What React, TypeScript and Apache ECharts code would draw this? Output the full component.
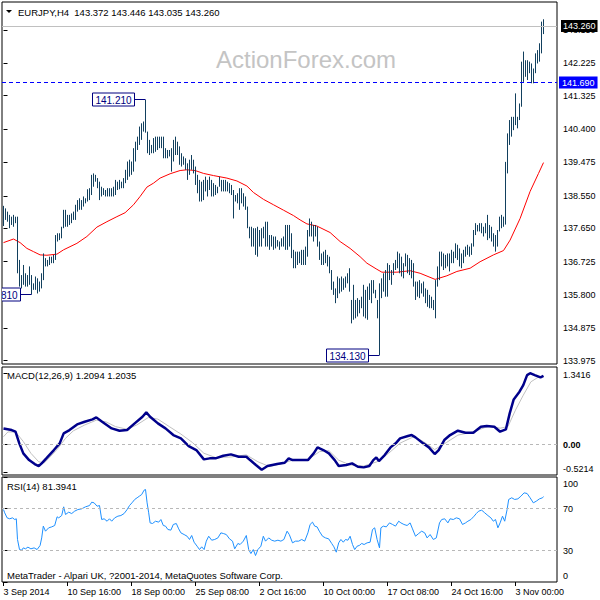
import React, { useEffect, useRef } from "react";
import * as echarts from "echarts";

const FONT = "'Liberation Sans', Arial, sans-serif";

const priceTicks = [133.975, 134.875, 135.8, 136.725, 137.65, 138.55, 139.475, 140.4, 141.325, 142.225, 143.15];
const macdTicks = [-0.5214, 0, 1.3416];
const rsiTicks = [0, 30, 70, 100];
const timeLabels = ["3 Sep 2014", "10 Sep 16:00", "18 Sep 00:00", "25 Sep 08:00", "2 Oct 16:00", "10 Oct 00:00", "17 Oct 08:00", "24 Oct 16:00", "3 Nov 00:00"];
const timeLabelBars = [0, 32, 64, 96, 128, 160, 192, 224, 256];

const highs = [
  138.27, 138.2, 138.11, 138.02, 137.97, 138.02, 137.97, 137.97, 136.77, 136.35,
  136.63, 136.4, 136.35, 136.59, 136.35, 136.12, 136.31, 136.26, 136.17, 136.4,
  136.95, 136.82, 136.77, 136.86, 136.86, 136.91, 137.46, 137.51, 137.51, 137.69,
  138.16, 138.16, 138.02, 138.02, 138.06, 138.11, 138.3, 138.43, 138.48, 138.43,
  138.53, 138.48, 138.73, 138.76, 139.13, 139.17, 139.13, 139.04, 138.94, 138.8,
  138.76, 138.71, 138.76, 138.76, 138.76, 138.8, 138.99, 138.94, 138.99, 138.94,
  139.04, 139.27, 139.5, 139.55, 139.5, 139.87, 140.05, 140.19, 140.47, 140.56,
  140.61, 141.21, 140.33, 140.1, 139.96, 140.15, 140.19, 140.19, 140.19, 140.19,
  140.19, 139.87, 139.82, 139.82, 139.87, 140.1, 140.19, 140.05, 139.92, 139.73,
  139.64, 139.59, 139.45, 139.55, 139.68, 139.55, 139.36, 139.13, 138.99, 138.94,
  138.99, 139.08, 138.99, 139.08, 138.99, 138.9, 138.85, 138.8, 139.08, 138.99,
  138.99, 138.99, 138.94, 138.9, 138.85, 138.71, 138.57, 138.62, 138.76, 138.76,
  138.62, 138.53, 138.25, 137.69, 137.69, 137.65, 137.65, 137.69, 137.6, 137.65,
  137.69, 137.83, 137.83, 137.46, 137.46, 137.42, 137.42, 137.32, 137.28, 137.37,
  137.42, 137.74, 137.74, 137.74, 137.51, 137.05, 137.0, 137.0, 137.0, 137.05,
  137.05, 137.14, 137.6, 137.92, 137.83, 137.74, 137.74, 137.69, 137.28, 136.95,
  137.0, 137.05, 136.91, 136.86, 136.49, 136.17, 135.98, 136.31, 136.26, 136.31,
  136.26, 136.31, 136.4, 136.54, 135.66, 136.08, 135.66, 135.71, 135.66, 135.75,
  136.08, 135.94, 136.03, 136.12, 136.21, 136.21, 135.94, 135.66, 136.12, 136.26,
  136.4, 136.49, 136.68, 136.63, 136.49, 136.68, 136.77, 137.0, 136.95, 136.86,
  136.68, 136.95, 136.91, 136.82, 136.77, 136.68, 136.17, 136.17, 136.21, 136.12,
  136.17, 135.98, 135.94, 135.8, 135.75, 135.66, 136.21, 136.59, 137.0, 137.0,
  136.95, 136.91, 136.95, 136.95, 137.05, 137.0, 137.23, 137.19, 137.09, 136.95,
  137.05, 137.14, 137.19, 137.14, 137.23, 137.6, 137.79, 137.74, 137.79, 137.79,
  137.69, 137.79, 138.02, 137.74, 137.69, 137.51, 137.46, 137.6, 137.97, 138.02,
  137.97, 139.49, 140.28, 140.65, 140.74, 140.74, 141.39, 140.74, 141.11, 142.27,
  142.55, 142.31, 142.31, 142.27, 142.22, 142.08, 142.5, 142.59, 142.78, 143.38,
  143.446
];

const lows = [
  137.71, 137.88, 137.83, 137.65, 137.74, 137.69, 137.79, 136.4, 136.03, 135.98,
  136.08, 136.03, 136.03, 136.08, 135.81, 135.94, 135.94, 135.84, 135.89, 135.98,
  136.21, 136.59, 136.59, 136.63, 136.68, 136.68, 136.77, 137.28, 137.32, 137.37,
  137.65, 137.69, 137.69, 137.74, 137.79, 137.88, 137.88, 138.11, 138.16, 138.16,
  138.25, 138.34, 138.39, 138.43, 138.57, 138.8, 138.94, 138.76, 138.43, 138.53,
  138.57, 138.53, 138.53, 138.53, 138.53, 138.53, 138.57, 138.71, 138.73, 138.76,
  138.76, 138.9, 138.99, 139.08, 139.13, 139.22, 139.5, 139.82, 139.96, 140.1,
  140.33, 140.3, 139.73, 139.68, 139.73, 139.73, 139.77, 139.82, 139.87, 139.87,
  139.59, 139.59, 139.59, 139.64, 139.22, 139.5, 139.68, 139.68, 139.41, 139.36,
  139.41, 139.27, 138.99, 139.13, 139.27, 139.17, 138.85, 138.62, 138.39, 138.39,
  138.43, 138.67, 138.53, 138.71, 138.53, 138.53, 138.57, 138.62, 138.8, 138.67,
  138.67, 138.67, 138.67, 138.62, 138.57, 137.92, 138.39, 138.34, 138.16, 138.34,
  138.25, 138.16, 137.65, 137.37, 137.14, 137.14, 136.91, 136.86, 137.14, 137.14,
  137.37, 137.14, 137.14, 137.05, 137.14, 137.05, 137.09, 137.14, 137.05, 137.14,
  137.14, 137.05, 137.05, 137.14, 136.82, 136.54, 136.54, 136.63, 136.68, 136.63,
  136.63, 136.63, 136.86, 137.42, 137.42, 137.28, 137.42, 137.14, 136.77, 136.63,
  136.63, 136.68, 136.59, 136.4, 135.94, 135.8, 135.57, 135.71, 135.84, 135.89,
  135.94, 136.0, 136.12, 135.89, 135.01, 135.11, 135.15, 135.2, 135.29, 135.43,
  135.2, 135.15, 135.11, 135.66, 135.57, 135.84, 135.71, 135.15, 134.13, 135.71,
  135.89, 135.75, 135.75, 136.21, 136.08, 136.35, 136.49, 136.54, 136.4, 136.31,
  136.26, 136.59, 136.4, 136.35, 136.26, 136.03, 135.66, 135.75, 135.71, 135.84,
  135.75, 135.57, 135.47, 135.43, 135.43, 135.38, 135.15, 136.03, 136.21, 136.59,
  136.49, 136.54, 136.59, 136.45, 136.68, 136.68, 136.82, 136.77, 136.59, 136.54,
  136.68, 136.86, 136.91, 136.86, 136.91, 137.14, 137.46, 137.56, 137.56, 137.51,
  137.42, 137.51, 137.32, 137.37, 137.28, 137.14, 137.0, 137.14, 137.56, 137.65,
  137.69, 137.75, 139.17, 139.96, 140.19, 140.37, 140.51, 140.42, 140.65, 141.02,
  141.71, 141.85, 141.76, 141.95, 141.67, 141.67, 141.95, 142.22, 142.27, 142.5,
  143.035
];

const maPoints = [
  [0, 137.25], [5, 137.35], [8.3, 137.25], [11.7, 137.09], [15, 137.0], [18.3, 136.91], [21.7, 136.9],
  [26.7, 136.93], [30, 137.05], [36.7, 137.23], [41.7, 137.42], [46.7, 137.68], [51.7, 137.83],
  [56.7, 137.97], [60.8, 138.08], [65, 138.3], [68.3, 138.53], [71.7, 138.79], [75, 138.9],
  [78.3, 139.04], [83.3, 139.16], [88.3, 139.25], [91.7, 139.27], [95.8, 139.25], [100, 139.17],
  [105, 139.11], [111.7, 139.04], [116.7, 138.96], [121.7, 138.82], [125, 138.64], [130, 138.45],
  [135, 138.3], [140, 138.15], [145, 138.0], [148.3, 137.88], [151.7, 137.77], [156.7, 137.71],
  [163.3, 137.53], [168.3, 137.28], [173.3, 137.09], [178.3, 136.86], [181.7, 136.68],
  [186.7, 136.51], [189.2, 136.43], [196.7, 136.43], [203.3, 136.47], [208.3, 136.4],
  [215.8, 136.23], [221.7, 136.33], [226.7, 136.45], [233.3, 136.54], [238.3, 136.72],
  [245, 136.91], [250, 137.03], [253.3, 137.32], [258.3, 137.92], [263.3, 138.67],
  [267.5, 139.17], [270, 139.47]
];

const macdMain = [
  [0, 0.306], [4.1, 0.275], [6, 0.244], [7.9, 0.025], [9.9, -0.163], [12.8, -0.288], [15.6, -0.363],
  [17.6, -0.4], [19.1, -0.35], [21.4, -0.256], [25.2, -0.1], [28.1, 0.025], [30.1, 0.213], [33, 0.275],
  [36.8, 0.381], [40.6, 0.431], [44.5, 0.475], [46.4, 0.513], [49.3, 0.431], [54.1, 0.306], [58, 0.263],
  [61.8, 0.275], [65.6, 0.4], [69.5, 0.525], [71.4, 0.606], [73.3, 0.525], [77.2, 0.4], [81, 0.306],
  [84.9, 0.181], [88.7, 0.119], [92.6, -0.025], [96.4, -0.1], [100.2, -0.275], [103.1, -0.256],
  [106, -0.256], [109.9, -0.206], [113.7, -0.181], [117.6, -0.225], [121.4, -0.225], [123.3, -0.288],
  [126.2, -0.381], [129.1, -0.47], [132, -0.4], [136.8, -0.363], [140.6, -0.338], [142.6, -0.256],
  [144.5, -0.288], [148.3, -0.288], [152.2, -0.288], [155.1, -0.163], [157, -0.05], [159.9, -0.1],
  [162.7, -0.163], [165.6, -0.288], [167.6, -0.4], [171.4, -0.381], [174.3, -0.35], [177.2, -0.413],
  [180.1, -0.425], [182.9, -0.4], [184.9, -0.288], [186.4, -0.238], [187.7, -0.306], [190.6, -0.194],
  [193.5, -0.05], [196.4, 0.038], [198.3, 0.119], [202.2, 0.163], [204.1, 0.181], [206, 0.138],
  [209.9, 0.025], [212.7, -0.05], [215.6, -0.175], [217.6, -0.1], [220.4, 0.088], [223.3, 0.181],
  [227.2, 0.263], [231, 0.225], [234.9, 0.225], [238.7, 0.338], [241.6, 0.35], [245.4, 0.338],
  [248.3, 0.244], [251.2, 0.288], [253.1, 0.588], [255.1, 0.85], [258, 0.994], [259.9, 1.119],
  [261.8, 1.306], [263.3, 1.3416], [265.6, 1.306], [268.5, 1.263], [270, 1.29]
];

const macdSignal = [
  [0, 0.15], [2.2, 0.24], [6, 0.24], [9.9, 0.06], [13.7, -0.16], [17.6, -0.32], [20.4, -0.34],
  [23.3, -0.23], [27.2, -0.07], [31, 0.12], [34.9, 0.26], [40.6, 0.37], [46.4, 0.46], [51.2, 0.43],
  [56, 0.34], [61.8, 0.29], [66.6, 0.37], [72.4, 0.51], [77.2, 0.48], [82.9, 0.34], [88.7, 0.2],
  [94.5, 0.04], [100.2, -0.16], [106, -0.24], [113.7, -0.23], [121.4, -0.19], [127.2, -0.32],
  [133, -0.41], [138.7, -0.36], [144.5, -0.29], [152.2, -0.28], [158, -0.13], [162.7, -0.11],
  [167.6, -0.29], [173.3, -0.38], [180.1, -0.4], [186.8, -0.32], [192.6, -0.16], [198.3, 0.03],
  [205.1, 0.15], [209.9, 0.06], [215.6, -0.09], [221.4, 0.04], [227.2, 0.18], [234.9, 0.24],
  [242.6, 0.35], [248.3, 0.31], [252.2, 0.34], [256, 0.65], [259.9, 0.93], [263.7, 1.18],
  [267.5, 1.27], [270, 1.28]
];

const rsiPoints = [
  [0, 69.0], [0.6, 65.9], [1.8, 61.1], [3.1, 60.2], [4.5, 61.1], [5.6, 59.5], [6.4, 60.2], [7.0, 40.5],
  [8.0, 30.9], [9.1, 30.3], [9.9, 32.5], [11.0, 31.6], [12.2, 33.2], [13.7, 31.6], [15.3, 32.5],
  [16.8, 30.9], [18.3, 34.8], [19.1, 42.0], [19.9, 53.2], [21.0, 48.4], [22.6, 51.6], [24.1, 52.5],
  [25.6, 53.8], [26.8, 62.1], [27.6, 61.1], [29.1, 63.3], [30.1, 71.6], [31.0, 64.3], [32.6, 66.5],
  [34.1, 65.2], [35.6, 67.5], [37.2, 69.0], [39.1, 69.7], [41.0, 71.6], [43.0, 72.8], [44.1, 76.0],
  [45.3, 75.4], [46.8, 72.2], [48.0, 72.8], [49.1, 59.5], [50.3, 60.2], [51.8, 57.9], [53.0, 60.2],
  [54.1, 57.9], [55.6, 61.1], [57.2, 62.7], [58.7, 63.3], [60.3, 65.2], [61.8, 69.0], [63.0, 72.8],
  [64.5, 76.0], [65.6, 78.6], [66.8, 80.2], [67.9, 81.7], [69.1, 83.3], [70.3, 87.5], [71.0, 88.1],
  [71.8, 75.4], [72.6, 65.9], [73.3, 56.3], [74.5, 55.7], [76.0, 57.9], [77.6, 57.0], [78.7, 59.5],
  [79.9, 53.8], [81.0, 53.2], [82.2, 50.0], [83.7, 49.4], [84.9, 54.8], [86.4, 55.7], [87.6, 50.6],
  [88.7, 46.8], [90.3, 45.2], [91.8, 43.6], [93.0, 40.5], [94.1, 44.3], [95.3, 37.9], [96.8, 34.1],
  [98.0, 30.9], [99.1, 33.5], [100.3, 30.9], [101.4, 38.9], [102.6, 43.6], [104.1, 39.8], [105.6, 40.5],
  [107.2, 42.0], [108.7, 46.8], [109.9, 46.2], [111.4, 45.2], [113.0, 41.1], [114.5, 38.9], [115.6, 31.6],
  [117.2, 36.7], [118.3, 35.7], [119.9, 38.9], [121.4, 44.3], [122.6, 30.9], [123.7, 27.1], [124.9, 30.9],
  [126.0, 25.2], [127.2, 30.9], [128.7, 34.1], [129.9, 43.6], [131.0, 38.9], [132.6, 42.0], [134.1, 39.8],
  [135.6, 38.9], [137.2, 39.8], [138.7, 38.9], [140.2, 40.5], [141.8, 48.4], [142.9, 45.2], [144.5, 37.3],
  [146.0, 38.9], [147.6, 38.9], [149.1, 40.5], [150.6, 38.9], [152.2, 46.8], [153.3, 54.8], [154.5, 57.0],
  [155.6, 53.2], [156.8, 52.5], [157.9, 48.4], [159.5, 43.6], [161.0, 42.0], [162.6, 41.1], [164.1, 36.7],
  [165.2, 33.5], [166.4, 28.4], [167.6, 37.3], [168.7, 40.5], [169.9, 37.9], [171.0, 40.5], [172.2, 39.8],
  [173.3, 43.6], [174.5, 35.7], [175.6, 30.9], [176.8, 34.1], [177.9, 34.8], [179.1, 36.7], [180.3, 35.7],
  [181.8, 37.3], [183.3, 37.9], [184.5, 50.0], [185.6, 51.6], [186.8, 40.5], [188.0, 32.5], [188.7, 51.6],
  [189.9, 53.2], [191.4, 52.5], [193.0, 56.3], [194.5, 54.8], [196.0, 53.2], [197.6, 57.9], [198.7, 56.3],
  [200.2, 54.8], [201.8, 53.8], [203.3, 56.3], [204.5, 50.6], [206.0, 43.6], [207.6, 46.2], [209.1, 48.4],
  [210.6, 46.8], [211.8, 42.0], [213.3, 45.2], [214.9, 40.5], [216.4, 42.0], [218.0, 56.3], [219.1, 59.5],
  [220.6, 60.2], [222.2, 56.3], [223.3, 60.2], [224.9, 59.5], [226.4, 61.1], [228.0, 60.2], [229.5, 54.8],
  [231.0, 56.3], [232.2, 57.9], [233.7, 59.5], [235.3, 62.7], [236.4, 65.2], [237.6, 67.5], [239.1, 68.4],
  [240.6, 65.9], [242.2, 63.3], [243.7, 61.1], [244.9, 57.9], [246.0, 59.5], [247.2, 51.6], [248.3, 56.3],
  [249.5, 62.7], [250.6, 57.9], [251.8, 69.0], [252.6, 78.6], [254.1, 80.2], [255.6, 78.6], [257.2, 79.2],
  [258.7, 81.7], [260.3, 84.9], [261.8, 84.3], [263.3, 80.2], [264.9, 75.4], [266.4, 77.0], [268.0, 79.2],
  [269.5, 80.2], [270, 81.39]
];

const extremeBars = [71, 14, 188];
const extremePrices = [141.21, 135.81, 134.13];
const extremeTexts = ["141.210", "135.810", "134.130"];

const lastPrice = 143.26;
const levelPrice = 141.69;

const headerText = "EURJPY,H4  143.372 143.446 143.035 143.260";
const macdText = "MACD(12,26,9) 1.2094 1.2035";
const rsiText = "RSI(14) 81.3941";
const footerText = "MetaTrader - Alpari UK, ?2001-2014, MetaQuotes Software Corp.";
const watermarkText = "ActionForex.com";

export default function App() {
  const ref = useRef<HTMLDivElement>(null);

  useEffect(() => {
    document.body.style.margin = "0";
    if (!ref.current) return;
    const chart = echarts.init(ref.current, undefined, { renderer: "svg" });

    const barData = highs.map((h, i) => [i, lows[i], h]);
    const extremeData = extremeBars.map((b, k) => [b, extremePrices[k]]);

    const baseGrid = { left: 2, right: 43, show: true, borderColor: "#000", borderWidth: 1, backgroundColor: "transparent", outerBoundsMode: "none" };
    const xBase = { type: "value", min: -0.75, max: 276.75, splitLine: { show: false } };
    const labelStyle = { color: "#000", fontSize: 9, fontFamily: FONT };

    const option: any = {
      animation: false,
      backgroundColor: "#fff",
      textStyle: { fontFamily: FONT },
      grid: [
        { ...baseGrid, top: 2, height: 362 },
        { ...baseGrid, top: 367, height: 108 },
        { ...baseGrid, top: 477, height: 105 },
      ],
      xAxis: [
        { ...xBase, gridIndex: 0, show: false },
        { ...xBase, gridIndex: 1, show: false },
        {
          ...xBase,
          gridIndex: 2,
          axisLine: { show: false },
          axisTick: { show: true, length: 4, lineStyle: { color: "#000" }, customValues: timeLabelBars },
          axisLabel: {
            ...labelStyle,
            customValues: timeLabelBars,
            align: "left",
            margin: 5,
            formatter: (v: number) => {
              const k = timeLabelBars.indexOf(Math.round(v));
              return k >= 0 ? timeLabels[k] : "";
            },
          },
        },
      ],
      yAxis: [
        {
          type: "value",
          gridIndex: 0,
          position: "right",
          min: 133.883,
          max: 143.925,
          splitLine: { show: false },
          axisLine: { show: false },
          axisTick: { show: true, length: 4, lineStyle: { color: "#000" }, customValues: priceTicks },
          axisLabel: { ...labelStyle, margin: 6, customValues: priceTicks, formatter: (v: number) => v.toFixed(3) },
        },
        {
          type: "value",
          gridIndex: 1,
          position: "right",
          min: -0.568,
          max: 1.458,
          splitLine: { show: false },
          axisLine: { show: false },
          axisTick: { show: true, length: 4, lineStyle: { color: "#000" }, customValues: macdTicks },
          axisLabel: {
            ...labelStyle,
            margin: 6,
            customValues: macdTicks,
            formatter: (v: number) => (v > 1 ? "{t|1.3416}" : v < 0 ? "{b|-0.5214}" : "{m|0.00}"),
            rich: {
              t: { color: "#000", fontSize: 9, fontFamily: FONT, padding: [4, 0, 0, 0] },
              b: { color: "#000", fontSize: 9, fontFamily: FONT, padding: [0, 0, 8, 0] },
              m: { color: "#000", fontSize: 9, fontFamily: FONT, fontWeight: "bold" },
            },
          },
        },
        {
          type: "value",
          gridIndex: 2,
          position: "right",
          min: 0,
          max: 100,
          splitLine: { show: false },
          axisLine: { show: false },
          axisTick: { show: true, length: 4, lineStyle: { color: "#000" }, customValues: rsiTicks },
          axisLabel: {
            ...labelStyle,
            margin: 6,
            customValues: rsiTicks,
            formatter: (v: number) => (v === 100 ? "{t|100}" : v === 0 ? "{b|0}" : "{m|" + v + "}"),
            rich: {
              t: { color: "#000", fontSize: 9, fontFamily: FONT, padding: [14, 0, 0, 0] },
              b: { color: "#000", fontSize: 9, fontFamily: FONT, padding: [0, 0, 13, 0] },
              m: { color: "#000", fontSize: 9, fontFamily: FONT },
            },
          },
        },
      ],
      series: [
        {
          type: "line",
          xAxisIndex: 0,
          yAxisIndex: 0,
          data: maPoints,
          showSymbol: false,
          lineStyle: { color: "#ff0000", width: 1 },
          silent: true,
          z: 2,
          markLine: {
            silent: true,
            symbol: "none",
            data: [
              {
                yAxis: levelPrice,
                lineStyle: { color: "#0000ff", type: [4, 3], width: 1 },
                label: {
                  show: true, position: "end", distance: 2, formatter: levelPrice.toFixed(3),
                  backgroundColor: "#0000ff", color: "#fff", padding: [2, 3, 1, 3], fontSize: 9, fontFamily: FONT,
                },
              },
              {
                yAxis: lastPrice,
                lineStyle: { color: "#c0c0c0", type: "solid", width: 1 },
                label: {
                  show: true, position: "end", distance: 4, formatter: lastPrice.toFixed(3),
                  backgroundColor: "#000", color: "#fff", padding: [2, 2, 1, 2], fontSize: 9, fontFamily: FONT,
                },
              },
            ],
          },
        },
        {
          type: "custom",
          xAxisIndex: 0,
          yAxisIndex: 0,
          data: barData,
          encode: { x: 0, y: [1, 2] },
          clip: true,
          silent: true,
          z: 3,
          renderItem: (params: any, api: any) => {
            const i = api.value(0);
            const lo = api.coord([i, api.value(1)]);
            const hi = api.coord([i, api.value(2)]);
            const x = Math.round(lo[0] - 0.5) + 0.5;
            return {
              type: "line",
              shape: { x1: x, y1: lo[1], x2: x, y2: Math.min(hi[1], lo[1] - 1) },
              style: { stroke: "#12405e", lineWidth: 1 },
            };
          },
        },
        {
          type: "custom",
          xAxisIndex: 0,
          yAxisIndex: 0,
          data: extremeData,
          encode: { x: 0, y: 1 },
          clip: true,
          silent: true,
          z: 4,
          renderItem: (params: any, api: any) => {
            const p = api.coord([api.value(0), api.value(1)]);
            const px = Math.round(p[0] - 0.5) + 0.5;
            const py = Math.round(p[1] - 0.5) + 0.5;
            const bx = px - 11;
            const w = 42;
            const h = 13;
            return {
              type: "group",
              children: [
                { type: "line", shape: { x1: bx, y1: py, x2: px, y2: py }, style: { stroke: "#000080", lineWidth: 1 } },
                { type: "rect", shape: { x: bx - w, y: py - 6.5, width: w, height: h }, style: { fill: "#fff", stroke: "#000080", lineWidth: 1 } },
                {
                  type: "text",
                  style: {
                    text: extremeTexts[params.dataIndex], x: bx - w / 2, y: py + 0.5, align: "center", verticalAlign: "middle",
                    fill: "#000080", font: `10px ${FONT}`,
                  },
                },
              ],
            };
          },
        },
        {
          type: "line",
          xAxisIndex: 1,
          yAxisIndex: 1,
          data: macdSignal,
          showSymbol: false,
          silent: true,
          lineStyle: { color: "#c0c0c0", width: 1 },
          markLine: {
            silent: true,
            symbol: "none",
            label: { show: false },
            lineStyle: { color: "#b8b8b8", type: [3, 3], width: 1 },
            data: [{ yAxis: 0 }],
          },
        },
        {
          type: "line",
          xAxisIndex: 1,
          yAxisIndex: 1,
          data: macdMain,
          showSymbol: false,
          silent: true,
          lineStyle: { color: "#00008b", width: 2.5 },
        },
        {
          type: "line",
          xAxisIndex: 2,
          yAxisIndex: 2,
          data: rsiPoints,
          showSymbol: false,
          silent: true,
          lineStyle: { color: "#1e90ff", width: 1 },
          markLine: {
            silent: true,
            symbol: "none",
            label: { show: false },
            lineStyle: { color: "#b8b8b8", type: [3, 3], width: 1 },
            data: [{ yAxis: 70 }, { yAxis: 30 }],
          },
        },
      ],
      graphic: [
        { type: "text", x: 306, y: 59, z: 0, silent: true, style: { text: watermarkText, fill: "#c4c4c4", font: `24px ${FONT}`, align: "center", verticalAlign: "middle" } },
        { type: "polygon", silent: true, shape: { points: [[6, 10], [12, 10], [9, 13]] }, style: { fill: "#000" } },
        { type: "text", x: 18, y: 12, silent: true, style: { text: headerText, fill: "#000", font: `9.5px ${FONT}`, verticalAlign: "middle" } },
        { type: "text", x: 7, y: 375, silent: true, style: { text: macdText, fill: "#000", font: `9.5px ${FONT}`, verticalAlign: "middle" } },
        { type: "text", x: 7, y: 486, silent: true, style: { text: rsiText, fill: "#000", font: `9.5px ${FONT}`, verticalAlign: "middle" } },
        { type: "text", x: 7, y: 575, silent: true, style: { text: footerText, fill: "#000", font: `9.5px ${FONT}`, verticalAlign: "middle" } },
      ],
    };

    chart.setOption(option);
    return () => chart.dispose();
  }, []);

  return <div ref={ref} style={{ width: 600, height: 600 }} />;
}
